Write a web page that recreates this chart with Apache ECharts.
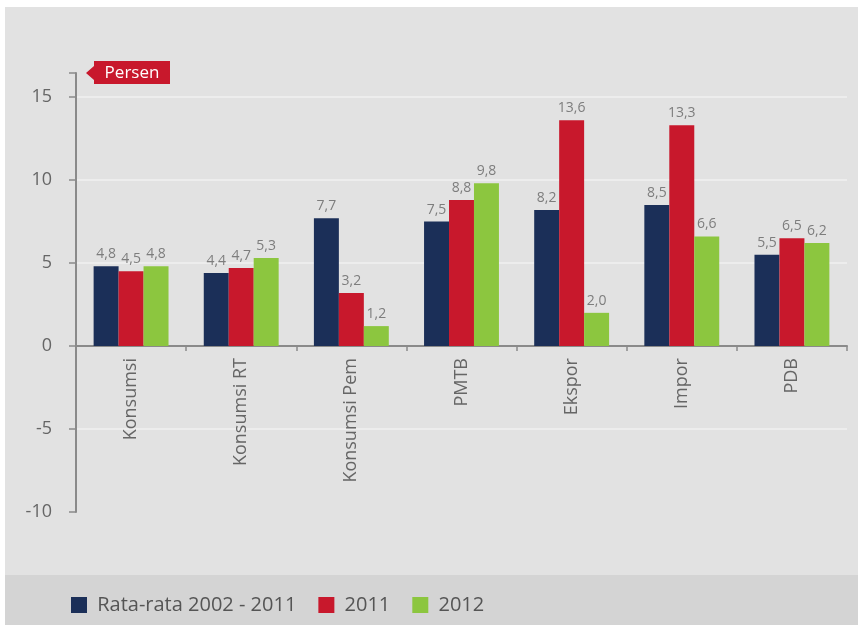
<!DOCTYPE html>
<html>
<head>
<meta charset="utf-8">
<script src="https://cdn.jsdelivr.net/npm/echarts@6/dist/echarts.min.js"></script>
<style>html,body{margin:0;padding:0;background:#fff;}#c{width:858px;height:625px;}</style>
</head>
<body>
<div id="c"></div>
<script>
const categories = ['Konsumsi', 'Konsumsi RT', 'Konsumsi Pem', 'PMTB', 'Ekspor', 'Impor', 'PDB'];
const seriesNames = ['Rata-rata 2002 - 2011', '2011', '2012'];
const avg2002_2011 = [4.8, 4.4, 7.7, 7.5, 8.2, 8.5, 5.5];
const y2011 = [4.5, 4.7, 3.2, 8.8, 13.6, 13.3, 6.5];
const y2012 = [4.8, 5.3, 1.2, 9.8, 2.0, 6.6, 6.2];
const yTicks = [-10, -5, 0, 5, 10, 15];
const gridLineValues = [15, 10, 5, -5];
const unitLabel = 'Persen';

const colors = ['#1b2f58', '#c8182c', '#8cc63f'];
const font = '"Open Sans", "Noto Sans", sans-serif';
const fmt = p => p.value.toFixed(1).replace('.', ',');

const yMin = yTicks[0], yMax = 16.45;
const gridTop = 73, gridBottomPx = 512;
const zeroPx = gridTop + (yMax - 0) / (yMax - yMin) * (gridBottomPx - gridTop);

const chart = echarts.init(document.getElementById('c'), null, {renderer: 'canvas'});
const seriesData = [avg2002_2011, y2011, y2012];
const series = seriesData.map((d, i) => ({
  name: seriesNames[i],
  type: 'bar',
  data: d,
  barGap: '0%',
  barCategoryGap: '32%',
  itemStyle: {color: colors[i]},
  label: {
    show: true, position: 'top', distance: 5, formatter: fmt,
    color: '#7d7d7d', fontSize: 14, fontFamily: font
  },
  markLine: i === 0 ? {
    silent: true, symbol: 'none', label: {show: false}, z: 0,
    lineStyle: {color: '#f0f0f0', type: 'solid', width: 1.5},
    data: gridLineValues.map(v => ({yAxis: v}))
  } : undefined
}));

chart.setOption({
  backgroundColor: '#ffffff',
  animation: false,
  color: colors,
  textStyle: {fontFamily: font},
  graphic: [
    {type: 'rect', z: -10, shape: {x: 5, y: 7, width: 853, height: 568}, style: {fill: '#e2e2e2'}},
    {type: 'rect', z: -10, shape: {x: 5, y: 575, width: 853, height: 50}, style: {fill: '#d4d4d4'}},
    {type: 'polygon', z: 10, shape: {points: [[86, 73], [94, 66], [94, 61], [170, 61], [170, 84], [94, 84], [94, 80]]}, style: {fill: '#c8182c'}},
    {type: 'text', z: 11, style: {text: unitLabel, x: 132, y: 73, align: 'center', verticalAlign: 'middle', fill: '#ffffff', font: '17px ' + font}}
  ],
  legend: {
    left: 66, top: 590,
    itemWidth: 16, itemHeight: 16, itemGap: 22,
    icon: 'rect',
    formatter: n => ' ' + n,
    textStyle: {color: '#555', fontSize: 20, fontFamily: font},
    data: seriesNames
  },
  grid: {left: 76, right: 11, top: gridTop, bottom: 625 - gridBottomPx, containLabel: false},
  xAxis: {
    type: 'category',
    data: categories,
    offset: -(gridBottomPx - zeroPx),
    axisLine: {onZero: false, lineStyle: {color: '#8a8a8a', width: 2}},
    axisTick: {show: true, length: 5, lineStyle: {color: '#8a8a8a', width: 1.5}},
    axisLabel: {rotate: 90, margin: 12, color: '#666', fontSize: 18, fontFamily: font},
    splitLine: {show: false}
  },
  yAxis: {
    type: 'value',
    min: yMin, max: yMax, interval: 5,
    axisLine: {show: true, lineStyle: {color: '#8a8a8a', width: 2}},
    axisTick: {show: true, length: 7, lineStyle: {color: '#8a8a8a', width: 1.5}},
    axisLabel: {
      margin: 24, color: '#666', fontSize: 18, fontFamily: font,
      formatter: v => yTicks.includes(v) ? String(v) : ''
    },
    splitLine: {show: false}
  },
  series: series
});
</script>
</body>
</html>
